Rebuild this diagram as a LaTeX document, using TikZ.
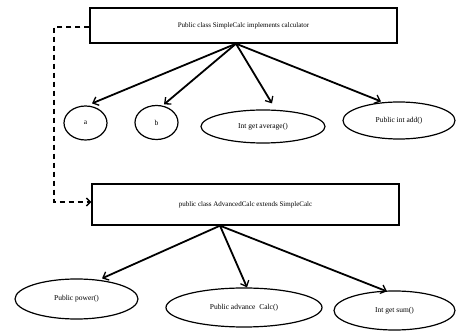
\documentclass[tikz,border=0pt]{standalone}
\usepackage{fontspec}
\setmainfont{Liberation Serif}
\usetikzlibrary{arrows.meta,shapes.geometric,calc}
\tikzset{
  classbox/.style={draw, line width=1.4pt, minimum width=#1, minimum height=35pt, inner sep=0pt, font=\fontsize{7}{8}\selectfont},
  member/.style={draw, ellipse, line width=1.2pt, inner sep=0pt, font=\fontsize{7.5}{8}\selectfont},
  assoc/.style={line width=1.8pt, -{Straight Barb[length=5pt,width=9pt,line width=1.3pt]}},
  inherit/.style={line width=1.4pt, dash pattern=on 5pt off 4pt, -{Straight Barb[length=4pt,width=8pt,line width=1.3pt]}}
}
\begin{document}
\begin{tikzpicture}[x=1pt,y=-1pt]
\useasboundingbox (0,0) rectangle (456,331);
% base class and its members
\node[classbox=307pt] (simple) at (243.5,25.5) {Public class SimpleCalc implements calculator};
\node[member, minimum width=43pt, minimum height=34pt] (a) at (85.5,123) {a};
\node[member, minimum width=43pt, minimum height=34pt] (b) at (156.5,122.5) {b};
\node[member, minimum width=124pt, minimum height=33pt] (avg) at (263,126.5) {Int get average()};
\node[member, minimum width=112pt, minimum height=37pt] (add) at (399,120.5) {Public int add()};
% derived class and its members
\node[classbox=307pt, minimum height=41pt] (adv) at (245.5,204.5) {public class AdvancedCalc extends SimpleCalc};
\node[member, minimum width=123pt, minimum height=40pt] (pow) at (76.5,299) {Public power()};
\node[member, minimum width=156pt, minimum height=39pt] (calc) at (244,307.5) {Public advance\ \ Calc()};
\node[member, minimum width=121pt, minimum height=39pt] (sum) at (394.5,310.5) {Int get sum()};
% connectors
\coordinate (s0) at ($(simple.south)+(-7.5,0)$);
\draw[assoc] (s0) -- ($(a.north)+(6.5,-2)$);
\draw[assoc] (s0) -- ($(b.north)+(7.5,-0.5)$);
\draw[assoc] (s0) -- ($(avg.north)+(9,-6)$);
\draw[assoc] (s0) -- ($(add.north)+(-18,0)$);
\coordinate (d0) at ($(adv.south)+(-25.5,0)$);
\draw[assoc] (d0) -- ($(pow.north)+(25.5,0)$);
\draw[assoc] (d0) -- ($(calc.north)+(3,0)$);
\draw[assoc] (d0) -- ($(sum.north)+(-7.5,1)$);
% inheritance link
\coordinate (bend1) at (54,27);
\coordinate (bend2) at (54,202);
\draw[inherit] (simple.west |- bend1) -- (bend1) -- (bend2) -- (adv.west |- bend2);
\end{tikzpicture}
\end{document}
